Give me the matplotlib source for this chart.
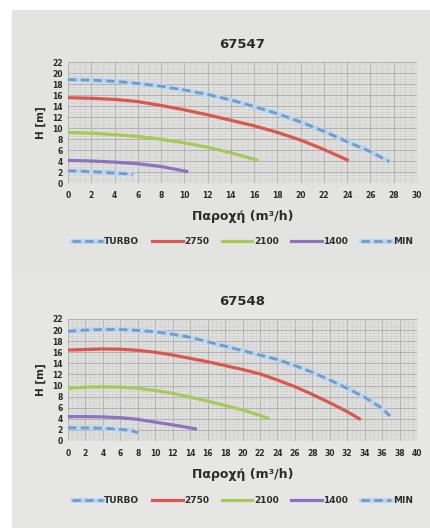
import matplotlib
matplotlib.use("Agg")
import matplotlib.pyplot as plt
from matplotlib.lines import Line2D
from matplotlib.ticker import MultipleLocator

plt.rcParams['font.family'] = ['DejaVu Sans']
plt.rcParams['font.weight'] = 'bold'

### data
series = ["TURBO", "2750", "2100", "1400", "MIN"]

# 67547
a_turbo_x = [0, 2, 4, 6, 8, 10, 12, 14, 16, 18, 20, 22, 24, 26, 27.6]
a_turbo_y = [18.8, 18.7, 18.5, 18.1, 17.6, 16.9, 16.1, 15.1, 13.9, 12.6, 11.1, 9.4, 7.5, 5.7, 3.9]
a_2750_x = [0, 2, 4, 6, 8, 10, 12, 14, 16, 18, 20, 22, 24]
a_2750_y = [15.5, 15.4, 15.2, 14.8, 14.1, 13.3, 12.4, 11.4, 10.4, 9.2, 7.8, 6.1, 4.2]
a_2100_x = [0, 2, 4, 6, 8, 10, 12, 14, 16.2]
a_2100_y = [9.2, 9.05, 8.8, 8.45, 7.95, 7.3, 6.5, 5.5, 4.2]
a_1400_x = [0, 2, 4, 6, 8, 10.2]
a_1400_y = [4.1, 4.0, 3.8, 3.5, 3.0, 2.1]
a_min_x = [0, 1, 2, 3, 4, 5.6]
a_min_y = [2.2, 2.15, 2.05, 1.95, 1.8, 1.6]

# 67548
b_turbo_x = [0, 2, 4, 6, 8, 10, 12, 14, 16, 18, 20, 22, 24, 26, 28, 30, 32, 34, 36, 36.9]
b_turbo_y = [19.8, 20.0, 20.1, 20.1, 19.95, 19.7, 19.25, 18.7, 17.9, 17.1, 16.3, 15.5,
             14.7, 13.6, 12.4, 11.0, 9.5, 7.9, 5.9, 4.5]
b_2750_x = [0, 2, 4, 6, 8, 10, 12, 14, 16, 18, 20, 22, 24, 26, 28, 30, 32, 33.4]
b_2750_y = [16.4, 16.5, 16.6, 16.55, 16.35, 16.0, 15.5, 14.9, 14.3, 13.6, 12.9, 12.1,
            11.0, 9.8, 8.4, 6.9, 5.3, 4.0]
b_2100_x = [0, 2, 4, 6, 8, 10, 12, 14, 16, 18, 20, 22, 22.9]
b_2100_y = [9.5, 9.7, 9.8, 9.7, 9.5, 9.1, 8.6, 7.9, 7.2, 6.4, 5.6, 4.6, 4.1]
b_1400_x = [0, 2, 4, 6, 8, 10, 12, 14.6]
b_1400_y = [4.4, 4.4, 4.35, 4.2, 3.9, 3.4, 2.9, 2.2]
b_min_x = [0, 2, 4, 6, 7.2, 8.0]
b_min_y = [2.4, 2.35, 2.3, 2.1, 1.9, 1.5]

RED = "#d9574c"
GREEN = "#a9c957"
PURPLE = "#8a74bd"
BLUE_LIGHT = "#bcd4ec"
BLUE_DARK = "#6d9cd3"
TXT = "#2b2b2b"


def dashed_blue(ax, x, y):
    ax.plot(x, y, color=BLUE_LIGHT, lw=3.4, solid_capstyle="butt", zorder=3)
    ax.plot(x, y, color=BLUE_DARK, lw=2.0, dashes=(3, 1.6), zorder=4)


def panel(ax, title, xmax, data):
    (tx, ty), (rx, ry), (gx, gy), (px, py), (mx, my) = data
    ax.set_facecolor("#e1e1df")
    dashed_blue(ax, tx, ty)
    ax.plot(rx, ry, color=RED, lw=2.3, zorder=3)
    ax.plot(gx, gy, color=GREEN, lw=2.3, zorder=3)
    ax.plot(px, py, color=PURPLE, lw=2.3, zorder=3)
    dashed_blue(ax, mx, my)

    ax.set_xlim(0, xmax)
    ax.set_ylim(0, 22)
    ax.xaxis.set_major_locator(MultipleLocator(2))
    ax.yaxis.set_major_locator(MultipleLocator(2))
    ax.xaxis.set_minor_locator(MultipleLocator(0.5))
    ax.yaxis.set_minor_locator(MultipleLocator(0.5))
    ax.grid(which="major", color="#b2b2b2", lw=0.8, zorder=1)
    ax.grid(which="minor", color="#d0d0ce", lw=0.5, zorder=0)
    ax.set_axisbelow(True)
    for s in ax.spines.values():
        s.set_visible(False)
    ax.tick_params(which="both", length=0, labelsize=5.5, colors=TXT, pad=6)
    ax.tick_params(axis="y", pad=4)
    for lab in ax.get_xticklabels() + ax.get_yticklabels():
        lab.set_fontweight("bold")

    ax.set_title(title, fontsize=9.5, fontweight="bold", color=TXT, pad=10)
    ax.set_xlabel("Παροχή (m³/h)", fontsize=9, fontweight="bold", color=TXT, labelpad=7)
    ax.set_ylabel("H [m]", fontsize=7.5, fontweight="bold", color=TXT, labelpad=4)

    handles = [
        (Line2D([], [], color=BLUE_LIGHT, lw=3.4), Line2D([], [], color=BLUE_DARK, lw=2.0, dashes=(3, 1.6))),
        Line2D([], [], color=RED, lw=2.3),
        Line2D([], [], color=GREEN, lw=2.3),
        Line2D([], [], color=PURPLE, lw=2.3),
        (Line2D([], [], color=BLUE_LIGHT, lw=3.4), Line2D([], [], color=BLUE_DARK, lw=2.0, dashes=(3, 1.6))),
    ]
    leg = ax.legend(handles, series, loc="upper center", bbox_to_anchor=(0.5, -0.42),
                    ncol=5, frameon=False, fontsize=6.5, handlelength=3.4,
                    handletextpad=0.15, columnspacing=1.4, borderaxespad=0)
    for t in leg.get_texts():
        t.set_color(TXT)


fig = plt.figure(figsize=(4.3, 5.28), dpi=100, facecolor="white")
fig.patches.append(plt.Rectangle((12 / 430, 250 / 528), 1, 268 / 528, transform=fig.transFigure,
                                 color="#e3e3e1", zorder=-5))
fig.patches.append(plt.Rectangle((12 / 430, 0), 1, 250 / 528, transform=fig.transFigure,
                                 color="#e6e6e4", zorder=-5))

ax1 = fig.add_axes([68 / 430, 1 - 183 / 528, 349 / 430, 121 / 528])
ax2 = fig.add_axes([68 / 430, 1 - 441 / 528, 349 / 430, 122 / 528])

panel(ax1, "67547", 30, [(a_turbo_x, a_turbo_y), (a_2750_x, a_2750_y), (a_2100_x, a_2100_y),
                         (a_1400_x, a_1400_y), (a_min_x, a_min_y)])
panel(ax2, "67548", 40, [(b_turbo_x, b_turbo_y), (b_2750_x, b_2750_y), (b_2100_x, b_2100_y),
                         (b_1400_x, b_1400_y), (b_min_x, b_min_y)])

fig.savefig("out.png", dpi=100, facecolor=fig.get_facecolor())
